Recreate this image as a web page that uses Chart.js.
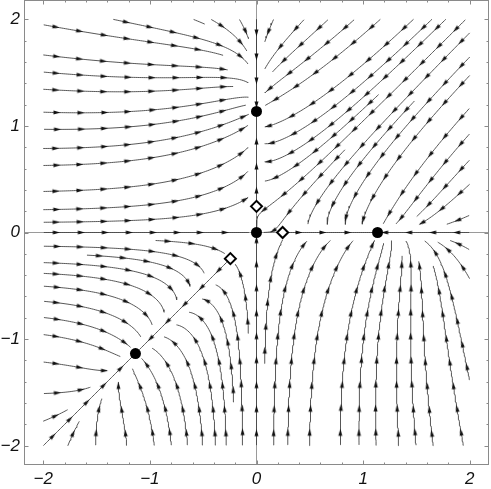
<!DOCTYPE html>
<html><head><meta charset="utf-8">
<script src="https://cdn.jsdelivr.net/npm/chart.js@4/dist/chart.umd.min.js"></script>
<style>html,body{margin:0;padding:0;background:#fff;overflow:hidden}</style>
</head><body>
<canvas id="c" width="491" height="489"></canvas>
<script>
// ---- values ----
const stablePoints = [{x:0,y:0},{x:0,y:1.135},{x:1.135,y:0},{x:-1.135,y:-1.135}];
const saddlePoints = [{x:0,y:0.245},{x:0.245,y:0},{x:-0.245,y:-0.245}];
const equilibriumA = 1.135;   // outer stable equilibria on the axes
const equilibriumB = 0.245;   // saddles on the axes
const invariantSeeds = [[-1.6,-1.6],[-0.7,-0.7],[0,1.8],[0,0.6],[0,-1.0],[-1.0,0],[1.6,0],[0.6,0]];
const tickValues = [-2,-1,0,1,2];
const axisRange = [-2.18, 2.18];
const streamRange = [-2, 2];

// vector field whose equilibria are the points above
const S = equilibriumA + equilibriumB, P = equilibriumA * equilibriumB;
function g(u, v){ return -u*u + u*v - v*v + S*u - 2*S*v - P; }
function field(x, y){ return [x*g(x,y), y*g(y,x)]; }

Chart.defaults.font.family = "'Liberation Sans', Arial, sans-serif";
const minus = v => (v < 0 ? '\u2212' + Math.abs(v) : String(v));

function arrowCanvas(){
  const c = document.createElement('canvas'); c.width = 11; c.height = 11;
  const x = c.getContext('2d');
  x.fillStyle = '#111';
  x.beginPath(); x.moveTo(9.5,5.5); x.lineTo(2.5,3.6); x.lineTo(2.5,7.4); x.closePath(); x.fill();
  return c;
}
const ARROW = arrowCanvas();

const framePlugin = {
  id: 'frame',
  afterDatasetsDraw(chart){
    const {ctx, chartArea:a, scales:{x, y}} = chart;
    ctx.save();
    ctx.strokeStyle = '#8a8a8a'; ctx.lineWidth = 1;
    ctx.strokeRect(a.left + 0.5, a.top + 0.5, a.right - a.left - 1, a.bottom - a.top - 1);
    ctx.beginPath();
    for (let i = -10; i <= 10; i++){
      const v = i / 5, major = (i % 5 === 0), L = major ? 4.5 : 2.5;
      const px = Math.round(x.getPixelForValue(v)) + 0.5;
      const py = Math.round(y.getPixelForValue(v)) + 0.5;
      ctx.moveTo(px, a.bottom); ctx.lineTo(px, a.bottom - L);
      ctx.moveTo(px, a.top); ctx.lineTo(px, a.top + L);
      ctx.moveTo(a.left, py); ctx.lineTo(a.left + L, py);
      ctx.moveTo(a.right, py); ctx.lineTo(a.right - L, py);
    }
    ctx.stroke();
    ctx.restore();
  }
};

const zeroGrid = {
  display: true, drawTicks: false,
  color: c => (c.tick && c.tick.value === 0 ? '#9a9a9a' : 'rgba(0,0,0,0)'),
  lineWidth: 1
};

const chart = new Chart(document.getElementById('c'), {
  type: 'scatter',
  data: { datasets: [] },
  options: {
    responsive: false, animation: false, devicePixelRatio: 1,
    layout: { autoPadding: false, padding: { top: 0, right: 2, left: 0, bottom: 0 } },
    plugins: { legend: { display: false }, tooltip: { enabled: false } },
    elements: { line: { tension: 0 } },
    scales: {
      x: {
        type: 'linear', min: axisRange[0], max: axisRange[1],
        border: { display: false }, grid: zeroGrid,
        afterBuildTicks: s => { s.ticks = tickValues.map(v => ({value: v})); },
        afterFit: s => { s.height = 24; s.paddingLeft = 0; s.paddingRight = 0; },
        ticks: { padding: 4, color: '#111', font: { size: 17, style: 'italic' }, callback: v => minus(v), maxRotation: 0 }
      },
      y: {
        type: 'linear', min: axisRange[0], max: axisRange[1],
        border: { display: false }, grid: zeroGrid,
        afterBuildTicks: s => { s.ticks = tickValues.map(v => ({value: v})); },
        afterFit: s => { s.width = 24; s.paddingTop = 0; s.paddingBottom = 0; },
        ticks: { padding: 4, color: '#111', font: { size: 17, style: 'italic' }, callback: v => minus(v) }
      }
    }
  },
  plugins: [framePlugin]
});

// ---- evenly spaced streamlines, traced through the chart's scales ----
(function build(){
  const xs = chart.scales.x, ys = chart.scales.y;
  const kx = xs.getPixelForValue(1) - xs.getPixelForValue(0);
  const ky = ys.getPixelForValue(1) - ys.getPixelForValue(0);
  const toPx = (x, y) => [xs.getPixelForValue(x), ys.getPixelForValue(y)];
  const DSEP = 17, DTEST = 8, H = 1;
  const cell = DSEP, grid = new Map();
  const key = (i, j) => i + ',' + j;
  const eqs = stablePoints.concat(saddlePoints).map(p => toPx(p.x, p.y));

  function near(px, py, d, owner){
    const ci = Math.floor(px / cell), cj = Math.floor(py / cell);
    for (let i = ci-1; i <= ci+1; i++) for (let j = cj-1; j <= cj+1; j++){
      const arr = grid.get(key(i,j)); if (!arr) continue;
      for (const p of arr){
        if (p[2] === owner) continue;
        const dx = p[0]-px, dy = p[1]-py;
        if (dx*dx + dy*dy < d*d) return true;
      }
    }
    return false;
  }
  function add(px, py, owner){
    const k = key(Math.floor(px/cell), Math.floor(py/cell));
    if (!grid.has(k)) grid.set(k, []);
    grid.get(k).push([px, py, owner]);
  }
  function dir(x, y, sgn){
    const v = field(x, y);
    const dx = v[0]*kx*sgn, dy = v[1]*ky*sgn;
    const m = Math.hypot(dx, dy);
    if (m < 1e-4) return null;
    return [dx/m, dy/m];
  }
  function trace(x0, y0, sgn, owner){
    const pts = [];
    let x = x0, y = y0;
    for (let n = 0; n < 3000; n++){
      const d1 = dir(x, y, sgn); if (!d1) break;
      const xm = x + 0.5*H*d1[0]/kx, ym = y + 0.5*H*d1[1]/ky;
      const d2 = dir(xm, ym, sgn); if (!d2) break;
      const nx = x + H*d2[0]/kx, ny = y + H*d2[1]/ky;
      if (nx < streamRange[0] || nx > streamRange[1] || ny < streamRange[0] || ny > streamRange[1]) break;
      const [px, py] = toPx(nx, ny);
      let stop = false;
      for (const e of eqs){ if (Math.hypot(e[0]-px, e[1]-py) < 3) { stop = true; break; } }
      if (stop) break;
      if (near(px, py, DTEST, owner)) break;
      x = nx; y = ny; pts.push([x, y, px, py]);
    }
    return pts;
  }

  const lines = [];
  const queue = [];
  function tryLine(x, y, force){
    const [px, py] = toPx(x, y);
    if (x < streamRange[0] || x > streamRange[1] || y < streamRange[0] || y > streamRange[1]) return;
    if (near(px, py, force ? DTEST : DSEP * 0.95, -1)) return;
    const id = lines.length;
    const f = trace(x, y, 1, id), b = trace(x, y, -1, id);
    const pts = b.reverse().concat([[x, y, px, py]], f);
    if (pts.length < 12) return;
    for (const p of pts) add(p[2], p[3], id);
    lines.push(pts);
    queue.push(id);
  }

  for (const s of invariantSeeds) tryLine(s[0], s[1], true);

  const seedStep = 0.5;
  const seeds = [];
  for (let yy = 1.75; yy >= -1.75; yy -= seedStep)
    for (let xx = -1.75; xx <= 1.75; xx += seedStep) seeds.push([xx, yy]);
  let si = 0;
  while (si < seeds.length || queue.length){
    if (queue.length){
      const id = queue.shift();
      const pts = lines[id];
      for (let i = 0; i < pts.length; i += 6){
        const p = pts[i], q = pts[Math.min(i+1, pts.length-1)], r = pts[Math.max(i-1, 0)];
        let tx = q[2]-r[2], ty = q[3]-r[3]; const m = Math.hypot(tx, ty) || 1; tx /= m; ty /= m;
        for (const s of [1, -1]){
          const npx = p[2] - ty*DSEP*s, npy = p[3] + tx*DSEP*s;
          tryLine(xs.getValueForPixel(npx), ys.getValueForPixel(npy), false);
        }
      }
    } else {
      const s = seeds[si++]; tryLine(s[0], s[1], false);
    }
  }

  const lineSets = [], arrowPts = [], arrowRot = [];
  const SPACING = 24;
  for (const pts of lines){
    const data = [];
    for (let i = 0; i < pts.length; i += 2) data.push({x: pts[i][0], y: pts[i][1]});
    const last = pts[pts.length-1]; data.push({x: last[0], y: last[1]});
    lineSets.push({ data, showLine: true, pointRadius: 0, borderColor: '#444', borderWidth: 0.9, order: 3 });
    let acc = 0, next = 12;
    for (let i = 1; i < pts.length - 3; i++){
      acc += Math.hypot(pts[i][2]-pts[i-1][2], pts[i][3]-pts[i-1][3]);
      if (acc >= next){
        const a = pts[Math.max(i-2,0)], b = pts[Math.min(i+2, pts.length-1)];
        arrowPts.push({x: pts[i][0], y: pts[i][1]});
        arrowRot.push(Math.atan2(b[3]-a[3], b[2]-a[2]) * 180 / Math.PI);
        next += SPACING;
      }
    }
  }
  chart.data.datasets = lineSets.concat([
    { data: arrowPts, pointStyle: ARROW, pointRotation: arrowRot, pointRadius: 5, showLine: false, order: 2 },
    { data: stablePoints, pointStyle: 'circle', pointRadius: 5.5, backgroundColor: '#000', borderColor: '#000', borderWidth: 0, order: 1 },
    { data: saddlePoints, pointStyle: 'rectRot', pointRadius: 5.5, backgroundColor: '#fff', borderColor: '#000', borderWidth: 2, order: 0 }
  ]);
  chart.update('none');
})();
</script>
</body></html>
